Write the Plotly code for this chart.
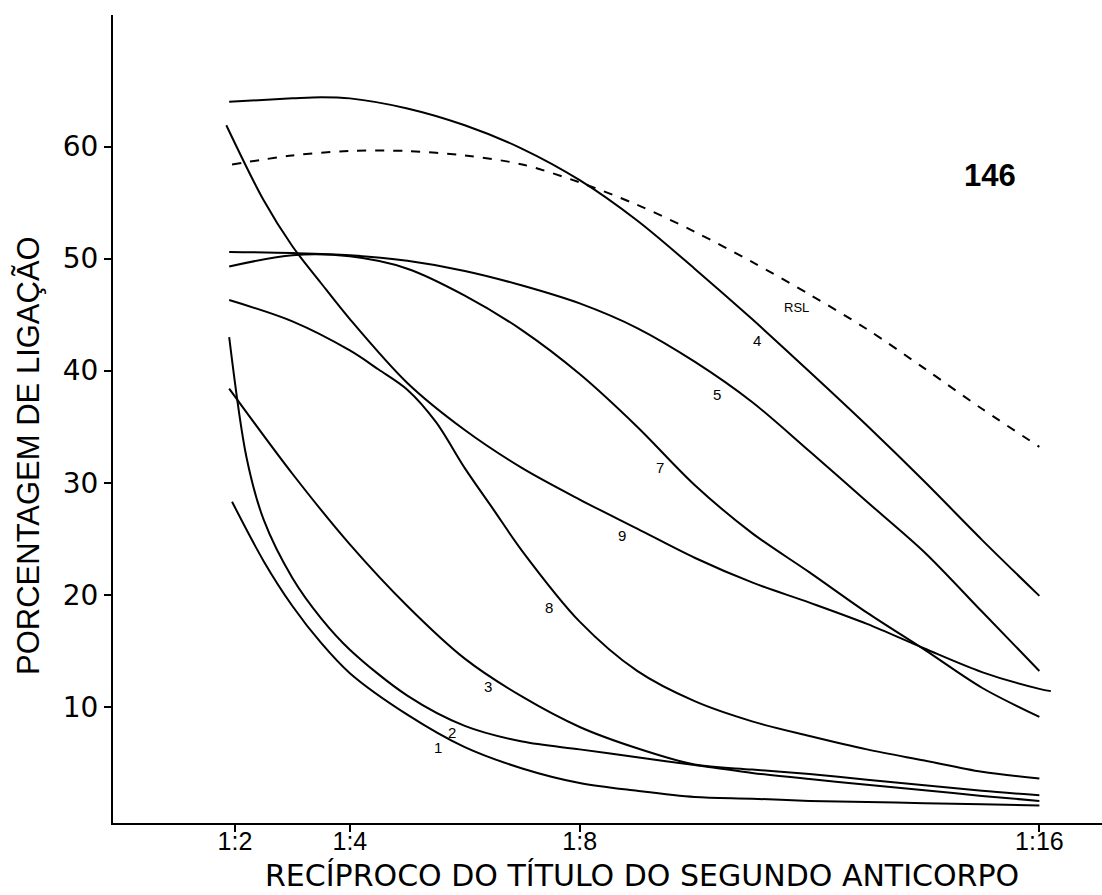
import plotly.graph_objects as go

# ---- data (x = reciprocal of antibody titre, y = % binding) ----
X_TICKS = [2, 4, 8, 16]
X_TICK_LABELS = ["1:2", "1:4", "1:8", "1:16"]
Y_TICKS = [10, 20, 30, 40, 50, 60]

X_C1 = [1.95, 2.5, 3, 3.5, 4, 5, 6, 7, 8, 9, 10, 11, 12, 13, 14, 15, 16]
Y_C1 = [28.3, 23.0, 19.0, 15.7, 13.0, 9.3, 6.4, 4.5, 3.2, 2.5, 1.95, 1.8, 1.6, 1.5, 1.4, 1.3, 1.2]

X_C2 = [1.9, 2.2, 2.5, 3, 3.5, 4, 5, 6, 7, 8, 9, 10, 11, 12, 13, 14, 15, 16]
Y_C2 = [43.0, 32.3, 26.7, 21.5, 17.9, 15.1, 11.0, 8.3, 6.9, 6.2, 5.5, 4.8, 4.1, 3.55, 3.05, 2.55, 2.05, 1.6]

X_C3 = [1.9, 3, 4, 5, 6, 7, 8, 9, 10, 11, 12, 13, 14, 15, 16]
Y_C3 = [38.4, 30.8, 24.5, 19.0, 14.3, 10.9, 8.2, 6.3, 4.85, 4.4, 4.0, 3.5, 3.0, 2.5, 2.1]

X_C4 = [1.9, 3, 3.5, 4, 5, 6, 7, 8, 9, 10, 11, 12, 13, 14, 15, 16]
Y_C4 = [64.0, 64.3, 64.4, 64.3, 63.4, 61.9, 59.8, 57.0, 53.4, 49.1, 44.6, 39.9, 35.1, 30.1, 24.9, 19.9]

X_C5 = [1.9, 3, 4, 5, 6, 7, 8, 9, 10, 11, 12, 13, 14, 15, 16]
Y_C5 = [50.6, 50.5, 50.3, 49.8, 48.9, 47.6, 46.0, 43.8, 40.8, 37.2, 32.8, 28.3, 23.8, 18.5, 13.2]

X_C7 = [1.9, 3, 4, 5, 6, 7, 8, 9, 10, 11, 12, 13, 14, 15, 16]
Y_C7 = [49.3, 50.3, 50.2, 49.1, 46.7, 43.6, 39.7, 35.0, 29.8, 25.5, 22.0, 18.4, 15.1, 11.7, 9.1]

X_C8 = [1.9, 3, 4, 4.5, 5, 5.5, 6, 6.5, 7, 8, 9, 10, 11, 12, 13, 14, 15, 16]
Y_C8 = [46.3, 44.4, 41.8, 40.1, 38.3, 35.4, 31.3, 27.6, 23.9, 17.6, 13.2, 10.5, 8.7, 7.4, 6.2, 5.2, 4.2, 3.6]

X_C9 = [1.85, 2.5, 3, 3.5, 4, 5, 6, 7, 8, 9, 10, 11, 12, 13, 14, 15, 16, 16.2]
Y_C9 = [61.9, 55.2, 51.1, 47.8, 44.6, 38.9, 34.7, 31.3, 28.5, 25.9, 23.3, 21.1, 19.3, 17.4, 15.2, 13.1, 11.6, 11.4]

X_RSL = [1.95, 3, 4, 5, 6, 7, 8, 9, 10, 11, 12, 13, 14, 15, 16]
Y_RSL = [58.4, 59.2, 59.6, 59.6, 59.2, 58.4, 56.8, 54.8, 52.4, 49.7, 46.8, 43.7, 40.2, 36.6, 33.2]

CURVE_LABELS = ["1", "2", "3", "4", "5", "7", "8", "9", "RSL"]
LABEL_X = [5.54, 5.78, 6.41, 11.09, 10.39, 9.40, 7.47, 8.74, 11.78]
LABEL_Y = [6.4, 7.7, 11.8, 42.7, 37.9, 31.4, 18.9, 25.3, 45.6]

FONT = "Liberation Sans, Arial, sans-serif"
WIDE = "DejaVu Sans, sans-serif"

fig = go.Figure()
series = [
    (X_C1, Y_C1, "1", "solid"),
    (X_C2, Y_C2, "2", "solid"),
    (X_C3, Y_C3, "3", "solid"),
    (X_C4, Y_C4, "4", "solid"),
    (X_C5, Y_C5, "5", "solid"),
    (X_C7, Y_C7, "7", "solid"),
    (X_C8, Y_C8, "8", "solid"),
    (X_C9, Y_C9, "9", "solid"),
    (X_RSL, Y_RSL, "RSL", "dash"),
]
for xs, ys, name, dash in series:
    fig.add_trace(go.Scatter(
        x=xs, y=ys, name=name, mode="lines",
        line=dict(color="black", width=2, dash=dash, shape="spline", smoothing=0.9),
        showlegend=False,
    ))

for txt, lx, ly in zip(CURVE_LABELS, LABEL_X, LABEL_Y):
    fig.add_annotation(x=lx, y=ly, text=txt, showarrow=False,
                       font=dict(family=FONT, size=15 if txt != "RSL" else 13, color="black"))

fig.add_annotation(x=15.14, y=57.4, text="<b>146</b>", showarrow=False,
                   font=dict(family=FONT, size=31, color="black"))

# axis titles
fig.add_annotation(xref="paper", yref="paper", x=(642 - 113) / 989, y=(823 - 875) / 808,
                   text="RECÍPROCO DO TÍTULO DO SEGUNDO ANTICORPO", showarrow=False,
                   xanchor="center", yanchor="middle",
                   font=dict(family=WIDE, size=30, color="black"))
fig.add_annotation(xref="paper", yref="paper", x=-0.086, y=(823 - 455) / 808,
                   text="PORCENTAGEM DE LIGAÇÃO", showarrow=False, textangle=-90,
                   xanchor="center", yanchor="middle",
                   font=dict(family=FONT, size=31, color="black"))

fig.update_layout(
    width=1102, height=895,
    margin=dict(l=113, r=0, t=15, b=72),
    paper_bgcolor="white", plot_bgcolor="white",
    xaxis=dict(range=[-0.122, 17.09], tickvals=X_TICKS, ticktext=X_TICK_LABELS,
               showline=True, linecolor="black", linewidth=2, ticks="outside",
               ticklen=7, tickwidth=1.5, tickcolor="black", showgrid=False, zeroline=False,
               ticklabelstandoff=-12,
               tickfont=dict(family=FONT, size=25, color="black")),
    yaxis=dict(range=[-0.37, 71.74], tickvals=Y_TICKS,
               showline=True, linecolor="black", linewidth=2, ticks="outside",
               ticklen=7, tickwidth=1.5, tickcolor="black", showgrid=False, zeroline=False,
               tickfont=dict(family=WIDE, size=28, color="black")),
)

fig.write_html("out.html")
